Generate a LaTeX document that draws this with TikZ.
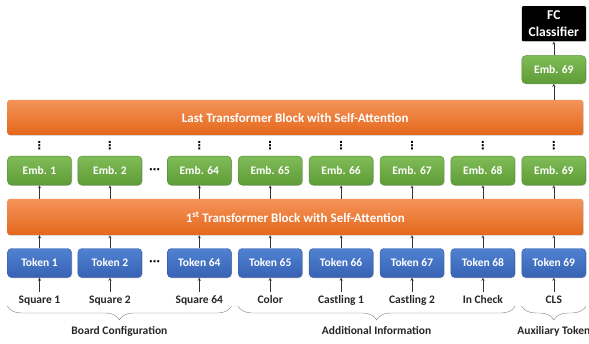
\documentclass[tikz,border=0pt]{standalone}
\usepackage{fontspec}
\setmainfont{Carlito}
\newfontfamily\dotsfont{DejaVu Sans}
\usepackage{xcolor}
\definecolor{tokentop}{HTML}{5082D2}
\definecolor{tokenbot}{HTML}{3862B4}
\definecolor{embtop}{HTML}{80BC58}
\definecolor{embbot}{HTML}{5E9C38}
\definecolor{blocktop}{HTML}{F4945A}
\definecolor{blockbot}{HTML}{E4671B}
\definecolor{labelgray}{HTML}{262626}
\usepackage{tikz}
\usetikzlibrary{positioning,shadows,arrows,calc,decorations.pathreplacing}
\newcommand{\boxnode}[3]{
\node (#1) [#2]{#3};}
\tikzstyle{unit}=[rectangle, rounded corners=4pt, text=white, inner sep=0pt,
        font=\bfseries\fontsize{11.5}{13}\selectfont, minimum width=64pt, minimum height=29pt,
        drop shadow={opacity=0.3, shadow xshift=0.8pt, shadow yshift=-0.8pt}]
\tikzstyle{token}=[unit, top color=tokentop, bottom color=tokenbot, draw=tokenbot!90!black, thin]
\tikzstyle{emb}=[unit, top color=embtop, bottom color=embbot, draw=embbot!90!black, thin]
\tikzstyle{block}=[unit, rounded corners=2pt, minimum width=575.5pt, top color=blocktop,
        bottom color=blockbot, font=\bfseries\fontsize{13}{15}\selectfont]
\tikzstyle{classifier}=[unit, rounded corners=1pt, fill=black, minimum height=35pt, align=center,
        font=\bfseries\fontsize{13.5}{16.5}\selectfont]
\tikzstyle{inlabel}=[text=labelgray, inner sep=1pt, text height=8pt, text depth=2.5pt,
        font=\bfseries\fontsize{11.5}{13}\selectfont]
\tikzstyle{dotsnode}=[inner sep=0pt, text=black, font=\dotsfont\bfseries\fontsize{11}{11}\selectfont]
\tikzstyle{line}=[->, >=stealth, draw=black!80, thin]
\tikzstyle{brace}=[decorate, decoration={brace, mirror, amplitude=14pt}, draw=black!50, thin]

\begin{document}
\begin{tikzpicture}[x=1pt, y=1pt]
\useasboundingbox (0,0) rectangle (589,343);

% tokens
\node (Token1) [token] at (39.5,80) {Token 1};
\boxnode{Token2}{token, right=6pt of Token1}{Token 2}
\boxnode{Token64}{token, right=25pt of Token2}{Token 64}
\boxnode{Token65}{token, right=6.5pt of Token64}{Token 65}
\boxnode{Token66}{token, right=6.5pt of Token65}{Token 66}
\boxnode{Token67}{token, right=6.5pt of Token66}{Token 67}
\boxnode{Token68}{token, right=6.5pt of Token67}{Token 68}
\boxnode{Token69}{token, right=6.5pt of Token68}{Token 69}

% embeddings
\boxnode{Emb1}{emb, above=63pt of Token1}{Emb. 1}
\boxnode{Emb2}{emb, above=63pt of Token2}{Emb. 2}
\boxnode{Emb64}{emb, above=63pt of Token64}{Emb. 64}
\boxnode{Emb65}{emb, above=63pt of Token65}{Emb. 65}
\boxnode{Emb66}{emb, above=63pt of Token66}{Emb. 66}
\boxnode{Emb67}{emb, above=63pt of Token67}{Emb. 67}
\boxnode{Emb68}{emb, above=63pt of Token68}{Emb. 68}
\boxnode{Emb69}{emb, above=63pt of Token69}{Emb. 69}

% transformer blocks
\node (FirstBlock) [block, minimum height=36pt] at (295.25,126) {1\textsuperscript{st} Transformer Block with Self-Attention};
\node (LastBlock) [block, minimum height=35pt] at (295.25,225.5) {Last Transformer Block with Self-Attention};

% output head
\boxnode{EmbOut}{emb, minimum height=28pt, above=16pt of LastBlock.north -| Emb69}{Emb. 69}
\boxnode{Classifier}{classifier, above=14pt of EmbOut}{FC\\Classifier}

% input labels
\boxnode{Square1}{inlabel, below=17pt of Token1}{Square 1}
\boxnode{Square2}{inlabel, below=17pt of Token2}{Square 2}
\boxnode{Square64}{inlabel, below=17pt of Token64}{Square 64}
\boxnode{Color}{inlabel, below=17pt of Token65}{Color}
\boxnode{CastlingA}{inlabel, below=17pt of Token66}{Castling 1}
\boxnode{CastlingB}{inlabel, below=17pt of Token67}{Castling 2}
\boxnode{InCheck}{inlabel, below=17pt of Token68}{In Check}
\boxnode{CLS}{inlabel, below=17pt of Token69}{CLS}

% dots
\node (TokenDots) [dotsnode] at ($(Token2.east)!0.5!(Token64.west)$) {⋯};
\node (EmbDots) [dotsnode] at ($(Emb2.east)!0.5!(Emb64.west)$) {⋯};
\node (Dots1) [dotsnode] at ($(Emb1.north)!0.5!(Emb1.north |- LastBlock.south)$) {⋮};
\node (Dots2) [dotsnode] at ($(Emb2.north)!0.5!(Emb2.north |- LastBlock.south)$) {⋮};
\node (Dots64) [dotsnode] at ($(Emb64.north)!0.5!(Emb64.north |- LastBlock.south)$) {⋮};
\node (Dots65) [dotsnode] at ($(Emb65.north)!0.5!(Emb65.north |- LastBlock.south)$) {⋮};
\node (Dots66) [dotsnode] at ($(Emb66.north)!0.5!(Emb66.north |- LastBlock.south)$) {⋮};
\node (Dots67) [dotsnode] at ($(Emb67.north)!0.5!(Emb67.north |- LastBlock.south)$) {⋮};
\node (Dots68) [dotsnode] at ($(Emb68.north)!0.5!(Emb68.north |- LastBlock.south)$) {⋮};
\node (Dots69) [dotsnode] at ($(Emb69.north)!0.5!(Emb69.north |- LastBlock.south)$) {⋮};

% draw lines
\draw[line, shorten <=3pt] (Square1) -- (Token1);
\draw[line, shorten <=3pt] (Square2) -- (Token2);
\draw[line, shorten <=3pt] (Square64) -- (Token64);
\draw[line, shorten <=3pt] (Color) -- (Token65);
\draw[line, shorten <=3pt] (CastlingA) -- (Token66);
\draw[line, shorten <=3pt] (CastlingB) -- (Token67);
\draw[line, shorten <=3pt] (InCheck) -- (Token68);
\draw[line, shorten <=3pt] (CLS) -- (Token69);

\draw[line] (Token1.north) -- (Token1.north |- FirstBlock.south);
\draw[line] (Token2.north) -- (Token2.north |- FirstBlock.south);
\draw[line] (Token64.north) -- (Token64.north |- FirstBlock.south);
\draw[line] (Token65.north) -- (Token65.north |- FirstBlock.south);
\draw[line] (Token66.north) -- (Token66.north |- FirstBlock.south);
\draw[line] (Token67.north) -- (Token67.north |- FirstBlock.south);
\draw[line] (Token68.north) -- (Token68.north |- FirstBlock.south);
\draw[line] (Token69.north) -- (Token69.north |- FirstBlock.south);

\draw[line] (Emb1.south |- FirstBlock.north) -- (Emb1.south);
\draw[line] (Emb2.south |- FirstBlock.north) -- (Emb2.south);
\draw[line] (Emb64.south |- FirstBlock.north) -- (Emb64.south);
\draw[line] (Emb65.south |- FirstBlock.north) -- (Emb65.south);
\draw[line] (Emb66.south |- FirstBlock.north) -- (Emb66.south);
\draw[line] (Emb67.south |- FirstBlock.north) -- (Emb67.south);
\draw[line] (Emb68.south |- FirstBlock.north) -- (Emb68.south);
\draw[line] (Emb69.south |- FirstBlock.north) -- (Emb69.south);

\draw[line] (EmbOut.south |- LastBlock.north) -- (EmbOut.south);
\draw[line] (EmbOut) -- (Classifier);

% braces
\coordinate (BraceTop) at (0,37);
\draw[brace] (Token1.west |- BraceTop) -- (Token64.east |- BraceTop)
  node (BoardInfo) [inlabel, midway, below=19pt] {Board Configuration};
\draw[brace] (Token65.west |- BraceTop) -- (Token68.east |- BraceTop)
  node (AddInfo) [inlabel, midway, below=19pt] {Additional Information};
\draw[brace] (Token69.west |- BraceTop) -- (Token69.east |- BraceTop)
  node (AuxInfo) [inlabel, midway, below=19pt] {Auxiliary Token};

\end{tikzpicture}
\end{document}
